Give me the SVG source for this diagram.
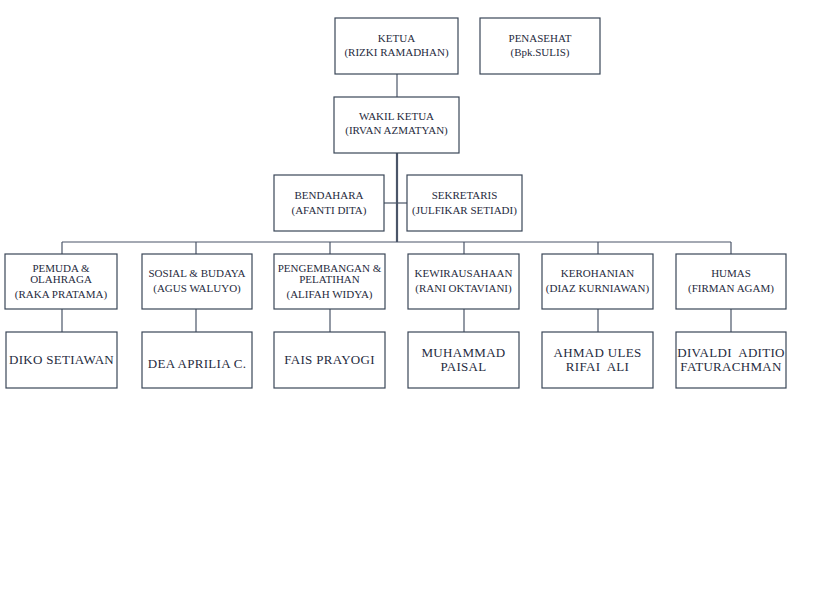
<svg xmlns="http://www.w3.org/2000/svg" width="819" height="589" viewBox="0 0 819 589">
<style>
.box{fill:#fff;stroke:#3a4658;stroke-width:1.2}
.t{font-family:"Liberation Serif","Times New Roman",serif;font-size:11px;fill:#1f2b40;text-anchor:middle}
.n{font-family:"Liberation Serif","Times New Roman",serif;font-size:13px;fill:#1f2b40;text-anchor:middle;letter-spacing:0.3px;white-space:pre}
.c{stroke:#4a5568;stroke-width:1.2;fill:none}
</style>
<rect width="819" height="589" fill="#fff"/>
<g id="connectors">
<line class="c" x1="397" y1="74" x2="397" y2="97"/>
<line class="c" x1="397" y1="153" x2="397" y2="242" style="stroke-width:2.2"/>
<line class="c" x1="384" y1="203" x2="407" y2="203"/>
<line class="c" x1="62" y1="242" x2="731" y2="242"/>
<line class="c" x1="62" y1="242" x2="62" y2="254"/>
<line class="c" x1="196" y1="242" x2="196" y2="254"/>
<line class="c" x1="330" y1="242" x2="330" y2="254"/>
<line class="c" x1="464" y1="242" x2="464" y2="254"/>
<line class="c" x1="598" y1="242" x2="598" y2="254"/>
<line class="c" x1="731" y1="242" x2="731" y2="254"/>
<line class="c" x1="62" y1="309" x2="62" y2="332"/>
<line class="c" x1="196" y1="309" x2="196" y2="332"/>
<line class="c" x1="330" y1="309" x2="330" y2="332"/>
<line class="c" x1="464" y1="309" x2="464" y2="332"/>
<line class="c" x1="598" y1="309" x2="598" y2="332"/>
<line class="c" x1="731" y1="309" x2="731" y2="332"/>
</g>
<g id="ketua"><rect class="box" x="335" y="18" width="123" height="56"/><text class="t" x="396.5" y="42">KETUA</text><text class="t" x="396.5" y="56">(RIZKI RAMADHAN)</text></g>
<g id="penasehat"><rect class="box" x="480" y="18" width="120" height="56"/><text class="t" x="540" y="42">PENASEHAT</text><text class="t" x="540" y="56">(Bpk.SULIS)</text></g>
<g id="wakil"><rect class="box" x="334" y="97" width="125" height="56"/><text class="t" x="396.5" y="120">WAKIL KETUA</text><text class="t" x="396.5" y="134">(IRVAN AZMATYAN)</text></g>
<g id="bendahara"><rect class="box" x="274" y="175" width="110" height="56"/><text class="t" x="329" y="199">BENDAHARA</text><text class="t" x="329" y="214">(AFANTI DITA)</text></g>
<g id="sekretaris"><rect class="box" x="407" y="175" width="115" height="56"/><text class="t" x="464.5" y="199">SEKRETARIS</text><text class="t" x="464.5" y="214">(JULFIKAR SETIADI)</text></g>
<g id="pemuda"><rect class="box" x="5" y="254" width="112" height="55"/><text class="t" x="61" y="272">PEMUDA &amp;</text><text class="t" x="61" y="283">OLAHRAGA</text><text class="t" x="61" y="298">(RAKA PRATAMA)</text></g>
<g id="sosial"><rect class="box" x="142" y="254" width="110" height="55"/><text class="t" x="197" y="277">SOSIAL &amp; BUDAYA</text><text class="t" x="197" y="292">(AGUS WALUYO)</text></g>
<g id="pengembangan"><rect class="box" x="274" y="254" width="111" height="55"/><text class="t" x="329.5" y="272">PENGEMBANGAN &amp;</text><text class="t" x="329.5" y="283">PELATIHAN</text><text class="t" x="329.5" y="298">(ALIFAH WIDYA)</text></g>
<g id="kewirausahaan"><rect class="box" x="408" y="254" width="111" height="55"/><text class="t" x="463.5" y="277">KEWIRAUSAHAAN</text><text class="t" x="463.5" y="292">(RANI OKTAVIANI)</text></g>
<g id="kerohanian"><rect class="box" x="542" y="254" width="111" height="55"/><text class="t" x="597.5" y="277">KEROHANIAN</text><text class="t" x="597.5" y="292">(DIAZ KURNIAWAN)</text></g>
<g id="humas"><rect class="box" x="676" y="254" width="110" height="55"/><text class="t" x="731" y="277">HUMAS</text><text class="t" x="731" y="292">(FIRMAN AGAM)</text></g>
<g id="diko"><rect class="box" x="6" y="332" width="111" height="56"/><text class="n" x="61.5" y="364">DIKO SETIAWAN</text></g>
<g id="dea"><rect class="box" x="142" y="332" width="110" height="56"/><text class="n" x="197" y="368">DEA APRILIA C.</text></g>
<g id="fais"><rect class="box" x="274" y="332" width="111" height="56"/><text class="n" x="329.5" y="364">FAIS PRAYOGI</text></g>
<g id="muhammad"><rect class="box" x="408" y="332" width="111" height="56"/><text class="n" x="463.5" y="357">MUHAMMAD</text><text class="n" x="463.5" y="371">PAISAL</text></g>
<g id="ahmad"><rect class="box" x="542" y="332" width="111" height="56"/><text class="n" x="597.5" y="357">AHMAD ULES</text><text class="n" x="597.5" y="371">RIFAI  ALI</text></g>
<g id="divaldi"><rect class="box" x="676" y="332" width="110" height="56"/><text class="n" x="731" y="357">DIVALDI  ADITIO</text><text class="n" x="731" y="371">FATURACHMAN</text></g>
</svg>
